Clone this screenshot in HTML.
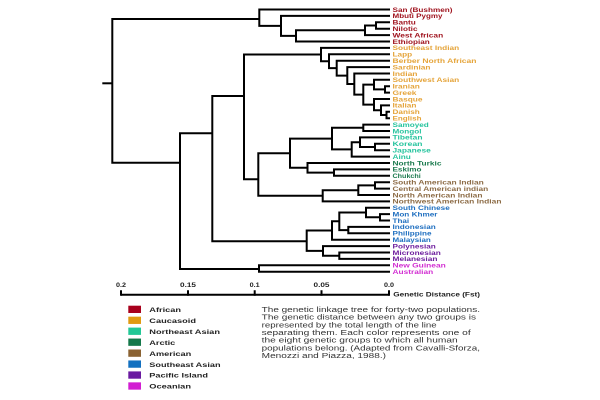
<!DOCTYPE html>
<html><head><meta charset="utf-8"><style>
html,body{margin:0;padding:0;background:#fff;}
svg{display:block;}
.l{font-family:"Liberation Sans",sans-serif;font-weight:bold;font-size:6.3px;}
.g{font-family:"Liberation Sans",sans-serif;font-weight:bold;font-size:6px;fill:#222;}
.c{font-family:"Liberation Sans",sans-serif;font-size:7px;fill:#333;}
</style></head><body>
<svg width="600" height="400" viewBox="0 0 600 400" xmlns="http://www.w3.org/2000/svg">
<rect width="600" height="400" fill="#fff"/>
<g fill="none" stroke="#000" stroke-width="2" stroke-linejoin="miter" stroke-linecap="butt">
<!-- African -->
<path d="M390 22.3 H376 V28.7 H390"/>
<path d="M376 25.5 H365 V35.1 H390"/>
<path d="M365 30.3 H296 V41.5 H390"/>
<path d="M390 15.9 H281 V35.9 H296"/>
<path d="M390 9.5 H259.3 V25.9 H281"/>
<!-- Caucasoid -->
<path d="M390 86.2 H385 V92.6 H390"/>
<path d="M390 79.8 H374 V89.4 H385"/>
<path d="M390 111.8 H386.5 V118.2 H390"/>
<path d="M390 105.4 H381 V115 H386.5"/>
<path d="M390 99 H374 V110.2 H381"/>
<path d="M374 84.6 H363.3 V104.6 H374"/>
<path d="M390 73.5 H354.3 V94.6 H363.3"/>
<path d="M390 67.1 H347.3 V84.05 H354.3"/>
<path d="M390 60.7 H336.7 V75.6 H347.3"/>
<path d="M390 54.3 H329 V68.15 H336.7"/>
<path d="M390 47.9 H321 V61.2 H329"/>
<!-- NE Asian -->
<path d="M390 124.6 H363.3 V131 H390"/>
<path d="M390 143.8 H375 V150.2 H390"/>
<path d="M390 137.4 H360 V147 H375"/>
<path d="M360 142.2 H351.7 V156.6 H390"/>
<path d="M363.3 127.8 H332 V149.4 H351.7"/>
<!-- Arctic -->
<path d="M390 169.4 H334 V175.8 H390"/>
<path d="M390 163 H307.5 V172.6 H334"/>
<path d="M332 138.6 H290 V167.8 H307.5"/>
<!-- American -->
<path d="M390 182.2 H375 V188.6 H390"/>
<path d="M375 185.4 H358.3 V195 H390"/>
<path d="M358.3 190.2 H322.7 V201.4 H390"/>
<path d="M290 153.2 H258.3 V195.8 H322.7"/>
<!-- SE Asian -->
<path d="M390 214.1 H380 V220.5 H390"/>
<path d="M390 207.7 H366 V217.3 H380"/>
<path d="M390 226.9 H348.3 V233.3 H390"/>
<path d="M366 212.5 H339.3 V230.1 H348.3"/>
<path d="M339.3 221.3 H332 V239.7 H390"/>
<!-- Pacific -->
<path d="M390 252.5 H339.3 V258.9 H390"/>
<path d="M390 246.1 H323 V255.7 H339.3"/>
<path d="M332 230.5 H306.7 V250.9 H323"/>
<!-- Oceanian -->
<path d="M390 265.3 H259 V271.7 H390"/>
<!-- Upper -->
<path d="M321 54.55 H244 V179.3 H258.3"/>
<path d="M244 96 H212.3 V241.2 H306.7"/>
<path d="M212.3 133.3 H180 V269 H259"/>
<path d="M259.3 19 H112.3 V162.7 H180"/>
<path d="M102.3 83.3 H112.3"/>
<!-- axis -->
<path d="M121 294.7 H389.5"/>
<path d="M121 290.3 V295.7 M188 290.3 V295.7 M254.7 290.3 V295.7 M321.5 290.3 V295.7 M389 290.3 V295.7"/>
</g>

<g class="l">
<g fill="#a0141f">
<text x="392.5" y="11.8" textLength="60" lengthAdjust="spacingAndGlyphs">San (Bushmen)</text>
<text x="392.5" y="18.2" textLength="50" lengthAdjust="spacingAndGlyphs">Mbuti Pygmy</text>
<text x="392.5" y="24.6" textLength="23.3" lengthAdjust="spacingAndGlyphs">Bantu</text>
<text x="392.5" y="31.0" textLength="25" lengthAdjust="spacingAndGlyphs">Nilotic</text>
<text x="392.5" y="37.4" textLength="50.7" lengthAdjust="spacingAndGlyphs">West African</text>
<text x="392.5" y="43.8" textLength="37.3" lengthAdjust="spacingAndGlyphs">Ethiopian</text>
</g>
<g fill="#e5a43a">
<text x="392.5" y="50.2" textLength="66.7" lengthAdjust="spacingAndGlyphs">Southeast Indian</text>
<text x="392.5" y="56.6" textLength="19.7" lengthAdjust="spacingAndGlyphs">Lapp</text>
<text x="392.5" y="63.0" textLength="84" lengthAdjust="spacingAndGlyphs">Berber North African</text>
<text x="392.5" y="69.4" textLength="38" lengthAdjust="spacingAndGlyphs">Sardinian</text>
<text x="392.5" y="75.8" textLength="25" lengthAdjust="spacingAndGlyphs">Indian</text>
<text x="392.5" y="82.1" textLength="66.7" lengthAdjust="spacingAndGlyphs">Southwest Asian</text>
<text x="392.5" y="88.5" textLength="27.3" lengthAdjust="spacingAndGlyphs">Iranian</text>
<text x="392.5" y="94.9" textLength="24" lengthAdjust="spacingAndGlyphs">Greek</text>
<text x="392.5" y="101.3" textLength="30" lengthAdjust="spacingAndGlyphs">Basque</text>
<text x="392.5" y="107.7" textLength="24" lengthAdjust="spacingAndGlyphs">Italian</text>
<text x="392.5" y="114.1" textLength="27.3" lengthAdjust="spacingAndGlyphs">Danish</text>
<text x="392.5" y="120.5" textLength="29" lengthAdjust="spacingAndGlyphs">English</text>
</g>
<g fill="#26c49e">
<text x="392.5" y="126.9" textLength="36.3" lengthAdjust="spacingAndGlyphs">Samoyed</text>
<text x="392.5" y="133.3" textLength="29" lengthAdjust="spacingAndGlyphs">Mongol</text>
<text x="392.5" y="139.7" textLength="30" lengthAdjust="spacingAndGlyphs">Tibetan</text>
<text x="392.5" y="146.1" textLength="30" lengthAdjust="spacingAndGlyphs">Korean</text>
<text x="392.5" y="152.5" textLength="38.3" lengthAdjust="spacingAndGlyphs">Japanese</text>
<text x="392.5" y="158.9" textLength="18.3" lengthAdjust="spacingAndGlyphs">Ainu</text>
</g>
<g fill="#1b7a4e">
<text x="392.5" y="165.3" textLength="49" lengthAdjust="spacingAndGlyphs">North Turkic</text>
<text x="392.5" y="171.7" textLength="29" lengthAdjust="spacingAndGlyphs">Eskimo</text>
<text x="392.5" y="178.1" textLength="28.3" lengthAdjust="spacingAndGlyphs">Chukchi</text>
</g>
<g fill="#8c6b45">
<text x="392.5" y="184.5" textLength="91.3" lengthAdjust="spacingAndGlyphs">South American Indian</text>
<text x="392.5" y="190.9" textLength="95.7" lengthAdjust="spacingAndGlyphs">Central American indian</text>
<text x="392.5" y="197.3" textLength="90" lengthAdjust="spacingAndGlyphs">North American Indian</text>
<text x="392.5" y="203.7" textLength="109" lengthAdjust="spacingAndGlyphs">Northwest American Indian</text>
</g>
<g fill="#1f6fc0">
<text x="392.5" y="210.0" textLength="57.3" lengthAdjust="spacingAndGlyphs">South Chinese</text>
<text x="392.5" y="216.4" textLength="45" lengthAdjust="spacingAndGlyphs">Mon Khmer</text>
<text x="392.5" y="222.8" textLength="16.7" lengthAdjust="spacingAndGlyphs">Thai</text>
<text x="392.5" y="229.2" textLength="43.3" lengthAdjust="spacingAndGlyphs">Indonesian</text>
<text x="392.5" y="235.6" textLength="39" lengthAdjust="spacingAndGlyphs">Philippine</text>
<text x="392.5" y="242.0" textLength="38.3" lengthAdjust="spacingAndGlyphs">Malaysian</text>
</g>
<g fill="#6e1e9e">
<text x="392.5" y="248.4" textLength="43.3" lengthAdjust="spacingAndGlyphs">Polynesian</text>
<text x="392.5" y="254.8" textLength="48.3" lengthAdjust="spacingAndGlyphs">Micronesian</text>
<text x="392.5" y="261.2" textLength="45" lengthAdjust="spacingAndGlyphs">Melanesian</text>
</g>
<g fill="#d22ed2">
<text x="392.5" y="267.6" textLength="53.3" lengthAdjust="spacingAndGlyphs">New Guinean</text>
<text x="392.5" y="274.0" textLength="40.7" lengthAdjust="spacingAndGlyphs">Australian</text>
</g>
</g>

<!-- axis labels -->
<g class="g" text-anchor="middle">
<text x="121" y="287" textLength="10" lengthAdjust="spacingAndGlyphs">0.2</text>
<text x="188" y="287" textLength="16" lengthAdjust="spacingAndGlyphs">0.15</text>
<text x="254.7" y="287" textLength="10" lengthAdjust="spacingAndGlyphs">0.1</text>
<text x="321.5" y="287" textLength="16" lengthAdjust="spacingAndGlyphs">0.05</text>
<text x="389" y="287" textLength="10" lengthAdjust="spacingAndGlyphs">0.0</text>
</g>
<text class="g" x="393.3" y="296.3" textLength="86.7" lengthAdjust="spacingAndGlyphs">Genetic Distance (Fst)</text>

<!-- legend -->
<rect x="128.3" y="305.7" width="12.7" height="7.3" fill="#a8001c"/>
<rect x="128.3" y="316.65" width="12.7" height="7.3" fill="#e09a12"/>
<rect x="128.3" y="327.6" width="12.7" height="7.3" fill="#22c896"/>
<rect x="128.3" y="338.55" width="12.7" height="7.3" fill="#14784a"/>
<rect x="128.3" y="349.5" width="12.7" height="7.3" fill="#8a6232"/>
<rect x="128.3" y="360.45" width="12.7" height="7.3" fill="#1270c0"/>
<rect x="128.3" y="371.4" width="12.7" height="7.3" fill="#6a1aa0"/>
<rect x="128.3" y="382.35" width="12.7" height="7.3" fill="#d21ed2"/>
<g class="g">
<text x="149.3" y="312" textLength="31.7" lengthAdjust="spacingAndGlyphs">African</text>
<text x="149.3" y="322.95" textLength="46.7" lengthAdjust="spacingAndGlyphs">Caucasoid</text>
<text x="149.3" y="333.9" textLength="70.7" lengthAdjust="spacingAndGlyphs">Northeast Asian</text>
<text x="149.3" y="344.85" textLength="26" lengthAdjust="spacingAndGlyphs">Arctic</text>
<text x="149.3" y="355.8" textLength="42" lengthAdjust="spacingAndGlyphs">American</text>
<text x="149.3" y="366.75" textLength="71.3" lengthAdjust="spacingAndGlyphs">Southeast Asian</text>
<text x="149.3" y="377.7" textLength="58.7" lengthAdjust="spacingAndGlyphs">Pacific Island</text>
<text x="149.3" y="388.65" textLength="41.7" lengthAdjust="spacingAndGlyphs">Oceanian</text>
</g>

<!-- caption -->
<g class="c">
<text x="261.7" y="312" textLength="218.3" lengthAdjust="spacingAndGlyphs">The genetic linkage tree for forty-two populations.</text>
<text x="261.7" y="319.67" textLength="214.3" lengthAdjust="spacingAndGlyphs">The genetic distance between any two groups is</text>
<text x="261.7" y="327.33" textLength="175" lengthAdjust="spacingAndGlyphs">represented by the total length of the line</text>
<text x="261.7" y="335" textLength="209" lengthAdjust="spacingAndGlyphs">separating them.  Each color represents one of</text>
<text x="261.7" y="342.67" textLength="196" lengthAdjust="spacingAndGlyphs">the eight genetic groups to which all human</text>
<text x="261.7" y="350.33" textLength="218.3" lengthAdjust="spacingAndGlyphs">populations belong.  (Adapted from Cavalli-Sforza,</text>
<text x="261.7" y="358" textLength="124.3" lengthAdjust="spacingAndGlyphs">Menozzi and Piazza, 1988.)</text>
</g>
</svg>
</body></html>
